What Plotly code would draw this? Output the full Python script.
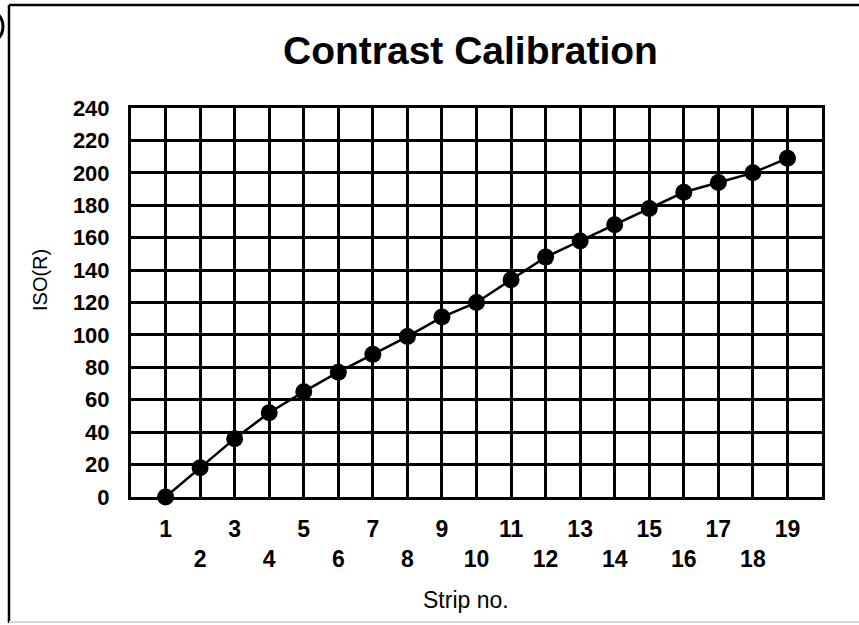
import plotly.graph_objects as go

strips = list(range(1, 20))
iso_r = [0, 18, 36, 52, 65, 77, 88, 99, 111, 120, 134, 148, 158, 168, 178, 188, 194, 200, 209]
x_tick_text = [str(s) if s % 2 == 1 else "<br>" + str(s) for s in strips]
y_ticks = list(range(0, 241, 20))

W, H = 859, 625
L, R, T, B = 131, 822, 108, 497

def px(x):
    return (x - L) / (R - L)

def py(y):
    return (B - y) / (B - T)

FONT = "Liberation Sans, Arial, sans-serif"

fig = go.Figure()
fig.add_trace(go.Scatter(
    x=strips, y=iso_r, mode="lines+markers",
    line=dict(color="black", width=2.5),
    marker=dict(color="black", size=17),
    cliponaxis=False, showlegend=False,
))

fig.update_layout(
    width=W, height=H,
    margin=dict(l=L, r=W - R, t=T, b=H - B),
    paper_bgcolor="white", plot_bgcolor="white",
    font=dict(family=FONT, color="black"),
    xaxis=dict(
        range=[0, 20], tickmode="array", tickvals=strips, ticktext=x_tick_text,
        showgrid=True, gridcolor="black", gridwidth=2.5,
        showline=True, linecolor="black", linewidth=3, mirror=True,
        ticks="", ticklabelstandoff=9, zeroline=False,
        tickfont=dict(family=FONT, size=23, color="black", weight="bold"),
        fixedrange=True,
    ),
    yaxis=dict(
        range=[0, 240], tickmode="array", tickvals=y_ticks,
        showgrid=True, gridcolor="black", gridwidth=2.5,
        showline=True, linecolor="black", linewidth=3, mirror=True,
        ticks="", ticklabelstandoff=14, zeroline=False,
        tickfont=dict(family=FONT, size=22, color="black", weight="bold"),
        fixedrange=True,
    ),
    annotations=[
        dict(text="<b>Contrast Calibration</b>", x=px(470), y=py(50), xref="paper", yref="paper",
             showarrow=False, xanchor="center", yanchor="middle",
             font=dict(family=FONT, size=39, color="black")),
        dict(text="ISO(R)", x=px(40), y=py(280), xref="paper", yref="paper",
             showarrow=False, xanchor="center", yanchor="middle", textangle=-90,
             font=dict(family=FONT, size=20, color="black")),
        dict(text="Strip no.", x=px(466), y=py(600), xref="paper", yref="paper",
             showarrow=False, xanchor="center", yanchor="middle",
             font=dict(family=FONT, size=23, color="black")),
    ],
    shapes=[
        dict(type="line", xref="paper", yref="paper", x0=px(9), x1=px(9), y0=py(5), y1=py(623),
             line=dict(color="black", width=2.5)),
        dict(type="line", xref="paper", yref="paper", x0=px(9), x1=px(880), y0=py(5), y1=py(5),
             line=dict(color="black", width=2.5)),
        dict(type="line", xref="paper", yref="paper", x0=px(9), x1=px(880), y0=py(622), y1=py(622),
             line=dict(color="#d8d8d8", width=2)),
        dict(type="circle", xref="paper", yref="paper", x0=px(-27), x1=px(3), y0=py(10), y1=py(43),
             line=dict(color="black", width=3)),
    ],
)

fig.write_html("out.html", config={"displayModeBar": False},
               post_script="document.body.style.margin='0';")
